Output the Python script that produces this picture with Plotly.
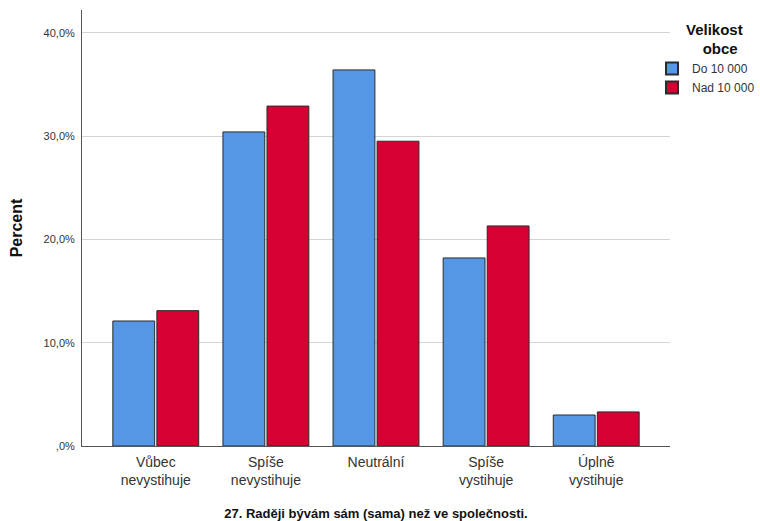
import plotly.graph_objects as go

categories = ["Vůbec<br>nevystihuje", "Spíše<br>nevystihuje", "Neutrální", "Spíše<br>vystihuje", "Úplně<br>vystihuje"]
do_10000 = [12.1, 30.4, 36.4, 18.2, 3.0]
nad_10000 = [13.1, 32.9, 29.5, 21.3, 3.3]
series_names = ["Do 10 000", "Nad 10 000"]
y_ticks = [0, 10, 20, 30, 40]
y_ticklabels = [",0%", "10,0%", "20,0%", "30,0%", "40,0%"]
legend_title = "<b>&nbsp;&nbsp;&nbsp;&nbsp;Velikost<br>&nbsp;&nbsp;&nbsp;&nbsp;&nbsp;&nbsp;&nbsp;&nbsp;obce</b>"

FONT = "Liberation Sans, Arial, sans-serif"

fig = go.Figure()
fig.add_trace(go.Bar(x=categories, y=do_10000, name=series_names[0],
                     marker=dict(color="#5597E4", line=dict(color="#2b2b2b", width=1))))
fig.add_trace(go.Bar(x=categories, y=nad_10000, name=series_names[1],
                     marker=dict(color="#D60032", line=dict(color="#2b2b2b", width=1))))

fig.update_layout(
    width=760, height=521,
    margin=dict(l=82, r=90, t=10, b=75, autoexpand=False),
    paper_bgcolor="white", plot_bgcolor="white",
    font=dict(family=FONT, size=12, color="#222"),
    barmode="group", bargap=0.2, bargroupgap=0.05,
    showlegend=True,
    legend=dict(
        title=dict(text=legend_title, font=dict(size=15, color="#111"), side="top center"),
        x=0.9694, xanchor="left", y=0.9885, yanchor="top",
        font=dict(size=12, color="#333"),
        itemsizing="constant", tracegroupgap=0, itemwidth=30,
        bgcolor="rgba(0,0,0,0)",
    ),
    xaxis=dict(
        range=[-0.67, 4.67],
        showline=True, linecolor="#555", linewidth=1,
        showgrid=False, ticks="", automargin=False,
        tickfont=dict(size=14, color="#333"), ticklabelstandoff=3,
        title=dict(text="<b>27. Raději bývám sám (sama) než ve společnosti.</b>",
                   font=dict(size=13, color="#111"), standoff=26),
    ),
    yaxis=dict(
        range=[0, 42.2],
        tickvals=y_ticks, ticktext=y_ticklabels,
        showline=True, linecolor="#555", linewidth=1,
        showgrid=True, gridcolor="#d4d4d4", gridwidth=1,
        zeroline=False, ticks="", automargin=False,
        tickfont=dict(size=11, color="#333"), ticklabelstandoff=4,
        title=dict(text="<b>Percent</b>", font=dict(size=16, color="#111"), standoff=16),
    ),
)

fig.write_html("out.html", config={"displayModeBar": False},
               post_script="document.body.style.margin='0';document.body.style.overflow='hidden';")
